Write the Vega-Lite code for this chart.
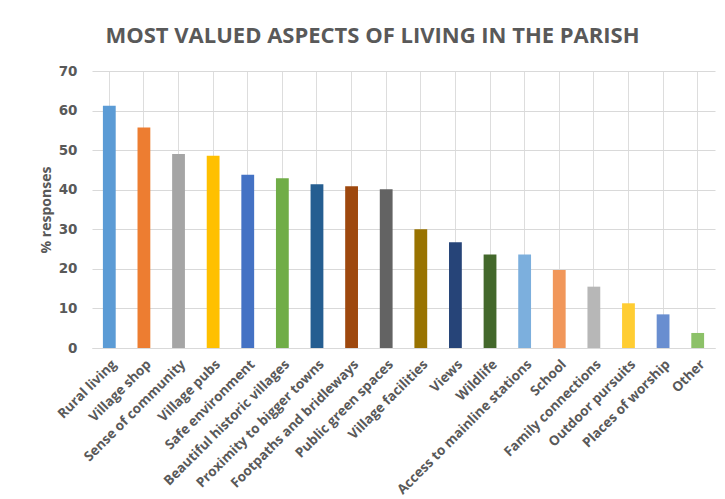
{
  "$schema": "https://vega.github.io/schema/vega-lite/v6.json",
  "autosize": "none",
  "width": 623,
  "height": 277,
  "padding": {"left": 92, "top": 71, "right": 10, "bottom": 151},
  "background": "white",
  "title": {
    "text": "MOST VALUED ASPECTS OF LIVING IN THE PARISH",
    "font": "Open Sans",
    "fontSize": 22,
    "fontWeight": "bold",
    "color": "#595959",
    "anchor": "middle",
    "dx": -31,
    "offset": 16
  },
  "data": {
    "values": [
      {"aspect": "Rural living", "pct": 61.2, "color": "#5B9BD5"},
      {"aspect": "Village shop", "pct": 55.7, "color": "#ED7D31"},
      {"aspect": "Sense of community", "pct": 49.0, "color": "#A5A5A5"},
      {"aspect": "Village pubs", "pct": 48.6, "color": "#FFC000"},
      {"aspect": "Safe environment", "pct": 43.8, "color": "#4472C4"},
      {"aspect": "Beautiful historic villages", "pct": 42.9, "color": "#70AD47"},
      {"aspect": "Proximity to bigger towns", "pct": 41.4, "color": "#255E91"},
      {"aspect": "Footpaths and bridleways", "pct": 40.9, "color": "#9E480E"},
      {"aspect": "Public green spaces", "pct": 40.1, "color": "#636363"},
      {"aspect": "Village facilities", "pct": 30.0, "color": "#997300"},
      {"aspect": "Views", "pct": 26.7, "color": "#264478"},
      {"aspect": "Wildlife", "pct": 23.6, "color": "#43682B"},
      {"aspect": "Access to mainline stations", "pct": 23.6, "color": "#7CAFDD"},
      {"aspect": "School", "pct": 19.7, "color": "#F1975A"},
      {"aspect": "Family connections", "pct": 15.5, "color": "#B7B7B7"},
      {"aspect": "Outdoor pursuits", "pct": 11.3, "color": "#FFCD33"},
      {"aspect": "Places of worship", "pct": 8.5, "color": "#698ED0"},
      {"aspect": "Other", "pct": 3.8, "color": "#8CC168"}
    ]
  },
  "mark": {"type": "bar"},
  "encoding": {
    "x": {
      "field": "aspect",
      "type": "nominal",
      "sort": null,
      "scale": {"paddingInner": 0.63, "paddingOuter": 0.315},
      "axis": {
        "title": null,
        "labelAngle": -45,
        "labelFont": "Open Sans",
        "labelFontSize": 13.5,
        "labelFontWeight": "bold",
        "labelColor": "#595959",
        "ticks": false,
        "domain": true,
        "domainColor": "#D9D9D9",
        "labelPadding": 9,
        "labelLimit": 300
      }
    },
    "y": {
      "field": "pct",
      "type": "quantitative",
      "scale": {"domain": [0, 70], "nice": false},
      "axis": {
        "title": "% responses",
        "titleFont": "Open Sans",
        "titleFontSize": 14,
        "titleFontWeight": "bold",
        "titleColor": "#595959",
        "titlePadding": 5,
        "values": [0, 10, 20, 30, 40, 50, 60, 70],
        "labelFont": "DejaVu Sans",
        "labelFontSize": 13.5,
        "labelFontWeight": "bold",
        "labelColor": "#595959",
        "labelPadding": 15,
        "ticks": false,
        "domain": false,
        "gridColor": "#D9D9D9",
        "gridWidth": 1
      }
    },
    "color": {"field": "color", "type": "nominal", "scale": null, "legend": null}
  },
  "config": {
    "view": {"stroke": null},
    "axis": {"grid": true}
  }
}
